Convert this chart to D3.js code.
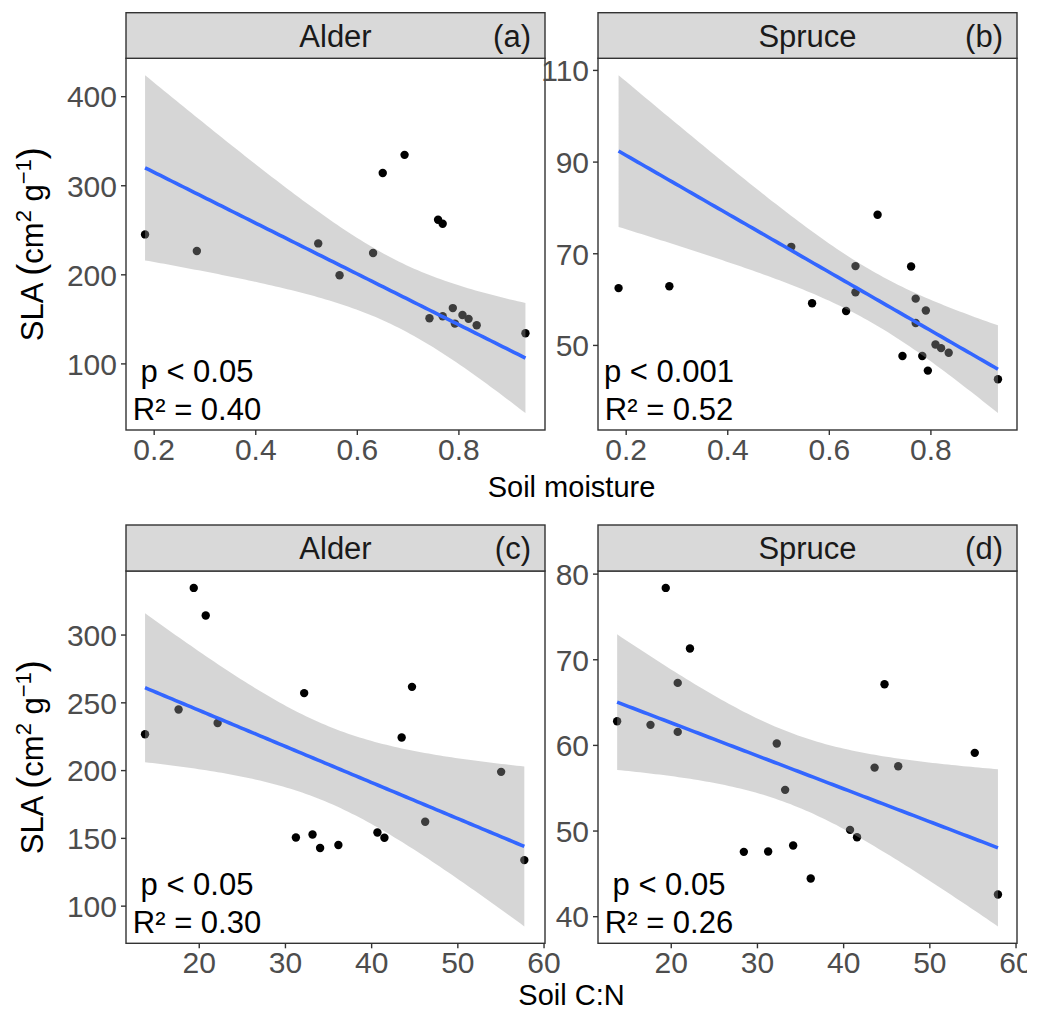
<!DOCTYPE html>
<html><head><meta charset="utf-8">
<script src="https://cdn.jsdelivr.net/npm/d3@7"></script>
<style>
body{margin:0;background:#fff}
svg{display:block}
text{font-family:"Liberation Sans",Arial,Helvetica,sans-serif}
</style>
</head><body>
<svg id="chart" width="1044" height="1012"></svg>
<script>
// ---------- data ----------
const alderMoisture = [0.183,0.285,0.524,0.566,0.632,0.651,0.694,0.760,0.769,0.743,0.769,0.789,0.793,0.808,0.820,0.836,0.932];
const alderSlaMoisture = [244.8,226.2,234.7,199.0,224.0,313.7,334.1,261.2,256.7,150.6,152.9,162.1,144.7,154.3,150.0,142.8,133.9];

const spruceMoisture = [0.186,0.286,0.526,0.567,0.634,0.6525,0.6525,0.696,0.745,0.762,0.771,0.771,0.784,0.791,0.795,0.810,0.821,0.836,0.933];
const spruceSlaMoisture = [62.4,62.8,71.4,59.1,57.4,67.2,61.5,78.4,47.6,67.1,60.1,54.8,47.6,57.5,44.4,50.1,49.3,48.3,42.5];

const alderCN = [13.77,17.66,19.42,20.81,22.19,31.27,32.23,33.2,34.08,36.2,40.73,41.54,43.54,44.74,46.27,55.08,57.77];
const alderSlaCN = [226.5,244.7,334.4,314.0,234.7,150.3,256.8,152.5,142.5,144.7,154.0,150.1,224.0,261.4,161.9,198.7,133.6];

const spruceCN = [13.78,17.65,19.42,20.81,20.81,22.23,28.48,31.3,32.3,33.27,34.2,36.24,40.8,41.61,43.65,44.8,46.39,55.27,57.96];
const spruceSlaCN = [62.76,62.34,78.33,67.24,61.52,71.25,47.51,47.55,60.16,54.75,48.25,44.4,50.08,49.22,57.35,67.08,57.5,59.07,42.53];

// fitted line as drawn in the reference for the soil-moisture panels
// (SLA of the fit at the lowest and highest moisture, and residual SE of the fit)
const fitEndsAlderMoisture = [319.6, 106.0];
const fitEndsSpruceMoisture = [92.3, 44.7];
const residualSE = [72.1, 11.7];

const species = ["Alder","Spruce","Alder","Spruce"];
const panelTags = ["(a)","(b)","(c)","(d)"];
const pLabels = ["p < 0.05","p < 0.001","p < 0.05","p < 0.05"];
const r2Labels = ["R² = 0.40","R² = 0.52","R² = 0.30","R² = 0.26"];

const xTicksMoisture = [0.2,0.4,0.6,0.8];
const xTicksCN = [20,30,40,50,60];
const yTicksA = [100,200,300,400];
const yTicksB = [50,70,90,110];
const yTicksC = [100,150,200,250,300];
const yTicksD = [40,50,60,70,80];

const xTitles = ["Soil moisture","Soil C:N"];

// t quantiles (0.975) by degrees of freedom
const t975 = {13:2.160,14:2.145,15:2.131,16:2.120,17:2.110,18:2.101,19:2.093,20:2.086};

// ---------- helpers ----------
function lmParams(xs, ys){
  const n = xs.length, mx = d3.mean(xs), my = d3.mean(ys);
  let sxx=0, sxy=0;
  for(let i=0;i<n;i++){ sxx += (xs[i]-mx)**2; sxy += (xs[i]-mx)*(ys[i]-my); }
  const b = sxy/sxx, a = my - b*mx;
  let sse=0;
  for(let i=0;i<n;i++) sse += (ys[i]-(a+b*xs[i]))**2;
  return {a, b, s:Math.sqrt(sse/(n-2))};
}
function band(xs, par, nGrid){
  const n = xs.length, mx = d3.mean(xs);
  let sxx=0; xs.forEach(x=>sxx+=(x-mx)**2);
  const t = t975[n-2] || 2.1;
  const [xmin,xmax] = d3.extent(xs);
  const out=[];
  for(let k=0;k<nGrid;k++){
    const x = xmin + (xmax-xmin)*k/(nGrid-1);
    const fit = par.a + par.b*x;
    const se = par.s*Math.sqrt(1/n + (x-mx)**2/sxx);
    out.push({x, y:fit, lo:fit-t*se, hi:fit+t*se});
  }
  return out;
}
function paramsFromEnds(xs, ends, s){
  const [xmin,xmax] = d3.extent(xs);
  const b = (ends[1]-ends[0])/(xmax-xmin);
  return {a: ends[0]-b*xmin, b, s};
}
function expand(ext){ const d=(ext[1]-ext[0])*0.05; return [ext[0]-d, ext[1]+d]; }

// ---------- layout ----------
const svg = d3.select("#chart");
const colsX = [126, 598];
const panelW = 419;
const rows = [{stripTop:12.7, top:58.3, bottom:430}, {stripTop:525, top:571, bottom:943.3}];

const panels = [
  {xs:alderMoisture, ys:alderSlaMoisture, yTicks:yTicksA, xTicks:xTicksMoisture, row:0, col:0,
   par:paramsFromEnds(alderMoisture, fitEndsAlderMoisture, residualSE[0])},
  {xs:spruceMoisture, ys:spruceSlaMoisture, yTicks:yTicksB, xTicks:xTicksMoisture, row:0, col:1,
   par:paramsFromEnds(spruceMoisture, fitEndsSpruceMoisture, residualSE[1])},
  {xs:alderCN, ys:alderSlaCN, yTicks:yTicksC, xTicks:xTicksCN, row:1, col:0, par:lmParams(alderCN, alderSlaCN)},
  {xs:spruceCN, ys:spruceSlaCN, yTicks:yTicksD, xTicks:xTicksCN, row:1, col:1, par:lmParams(spruceCN, spruceSlaCN)}
];

const grey20="#333333", grey30="#4D4D4D";
const tickFs = 30, textFs = 31;

panels.forEach((p,i)=>{
  const r = rows[p.row];
  const x0 = colsX[p.col], x1 = x0 + panelW;
  const rowPanels = panels.filter(q=>q.row===p.row);
  const xDom = expand(d3.extent(rowPanels.flatMap(q=>q.xs)));
  const xScale = d3.scaleLinear().domain(xDom).range([x0,x1]);
  const fitData = band(p.xs, p.par, 100);
  const yExt = d3.extent([...p.ys, ...fitData.map(d=>d.lo), ...fitData.map(d=>d.hi)]);
  const yDom = expand(yExt);
  const yScale = d3.scaleLinear().domain(yDom).range([r.bottom, r.top]);

  const g = svg.append("g");
  const clipId = "clip"+i;
  svg.append("clipPath").attr("id",clipId).append("rect")
    .attr("x",x0).attr("y",r.top).attr("width",panelW).attr("height",r.bottom-r.top);
  const inner = g.append("g").attr("clip-path",`url(#${clipId})`);

  inner.selectAll("circle").data(p.xs.map((x,k)=>({x, y:p.ys[k]}))).join("circle")
    .attr("cx",d=>xScale(d.x)).attr("cy",d=>yScale(d.y)).attr("r",4.2).attr("fill","#000");
  inner.append("path").datum(fitData)
    .attr("d", d3.area().x(d=>xScale(d.x)).y0(d=>yScale(d.lo)).y1(d=>yScale(d.hi)))
    .attr("fill","#999999").attr("fill-opacity",0.4);
  inner.append("path").datum(fitData)
    .attr("d", d3.line().x(d=>xScale(d.x)).y(d=>yScale(d.y)))
    .attr("fill","none").attr("stroke","#3366FF").attr("stroke-width",3.6);

  g.append("rect").attr("x",x0).attr("y",r.top).attr("width",panelW).attr("height",r.bottom-r.top)
    .attr("fill","none").attr("stroke",grey20).attr("stroke-width",1.4);

  const yAxis = d3.axisLeft(yScale).tickValues(p.yTicks.filter(v=>v>=yDom[0]&&v<=yDom[1])).tickSize(5).tickPadding(4);
  const ya = g.append("g").attr("transform",`translate(${x0},0)`).call(yAxis);
  ya.select(".domain").remove();
  ya.selectAll("line").attr("stroke",grey20).attr("stroke-width",1.4);
  ya.selectAll("text").attr("fill",grey30).attr("font-size",tickFs).attr("dy","0.36em")
    .style("font-family",'"Liberation Sans",Arial,sans-serif');

  const xAxis = d3.axisBottom(xScale).tickValues(p.xTicks.filter(v=>v>=xDom[0]&&v<=xDom[1])).tickSize(5).tickPadding(3);
  const xa = g.append("g").attr("transform",`translate(0,${r.bottom})`).call(xAxis);
  xa.select(".domain").remove();
  xa.selectAll("line").attr("stroke",grey20).attr("stroke-width",1.4);
  xa.selectAll("text").attr("fill",grey30).attr("font-size",tickFs).attr("dy","0.72em")
    .style("font-family",'"Liberation Sans",Arial,sans-serif');

  g.append("rect").attr("x",x0).attr("y",r.stripTop).attr("width",panelW).attr("height",r.top-r.stripTop)
    .attr("fill","#D9D9D9").attr("stroke",grey20).attr("stroke-width",1.4);
  const stripBase = (r.stripTop + r.top)/2 + 11;
  g.append("text").attr("x",(x0+x1)/2).attr("y",stripBase).attr("text-anchor","middle")
    .attr("font-size",textFs).attr("fill","#1A1A1A").text(species[i]);
  g.append("text").attr("x",x1-14).attr("y",stripBase).attr("text-anchor","end")
    .attr("font-size",textFs).attr("fill","#1A1A1A").text(panelTags[i]);

  g.append("text").attr("x",x0+71).attr("y",r.bottom-48).attr("text-anchor","middle")
    .attr("font-size",textFs).attr("fill","#000").text(pLabels[i]);
  g.append("text").attr("x",x0+71).attr("y",r.bottom-10).attr("text-anchor","middle")
    .attr("font-size",textFs).attr("fill","#000").text(r2Labels[i]);
});

[0,1].forEach(ri=>{
  const r = rows[ri];
  const cy = (r.top + r.bottom)/2;
  const t = svg.append("text").attr("transform",`translate(43,${cy}) rotate(-90)`)
    .attr("text-anchor","middle").attr("font-size",31).attr("fill","#000");
  t.append("tspan").text("SLA ");
  t.append("tspan").attr("font-size",36).text("(");
  t.append("tspan").text("cm");
  t.append("tspan").attr("font-size",22).attr("dy",-12).text("2");
  t.append("tspan").attr("dy",12).text(" g");
  t.append("tspan").attr("font-size",22).attr("dy",-12).text("\u22121");
  t.append("tspan").attr("font-size",36).attr("dy",12).text(")");
  svg.append("text").attr("x",(126+598+panelW)/2).attr("y", ri===0 ? 497 : 1005)
    .attr("text-anchor","middle").attr("font-size",29).attr("fill","#000").text(xTitles[ri]);
});

// the reference image is cropped at its right edge
svg.append("rect").attr("x",1027).attr("y",0).attr("width",17).attr("height",1012).attr("fill","#fff");
</script>
</body></html>
